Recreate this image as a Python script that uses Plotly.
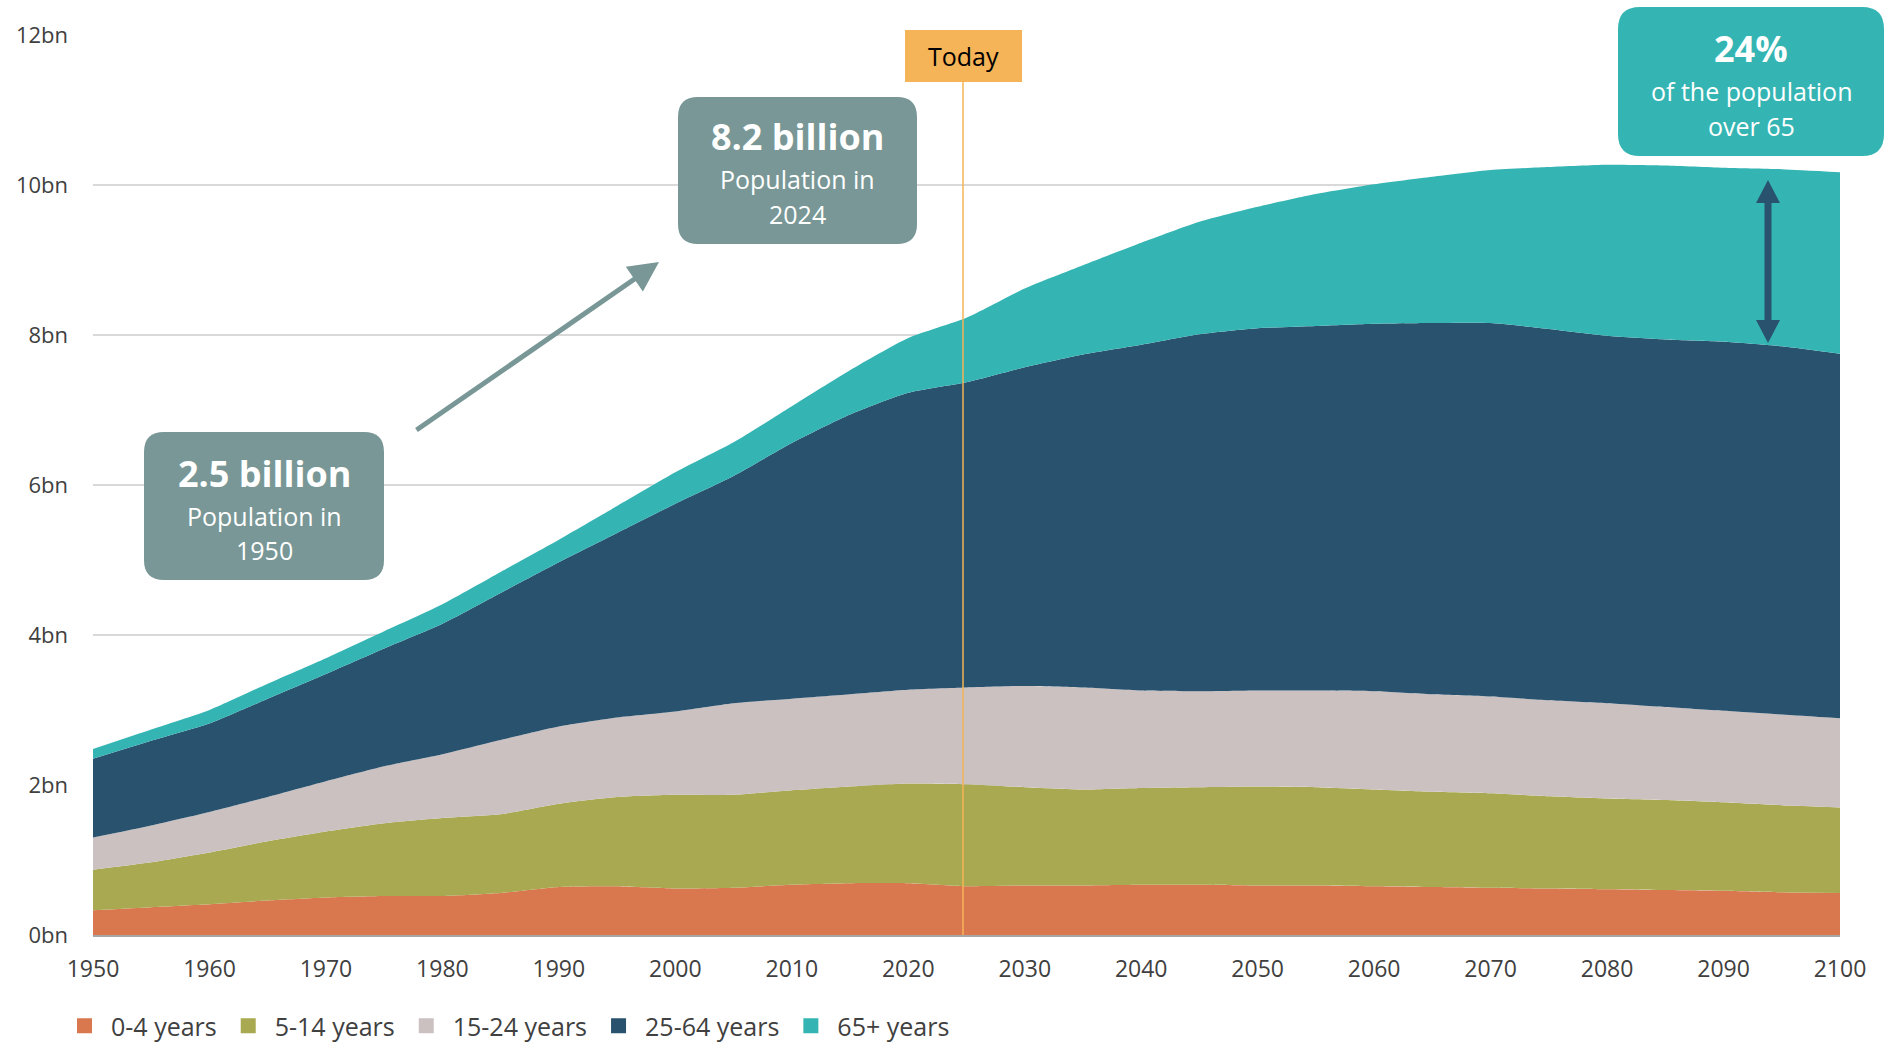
import plotly.graph_objects as go

# ---------------- data (billions) ----------------
years = list(range(1950, 2101, 5))
age_0_4 = [0.33, 0.37, 0.41, 0.46, 0.50, 0.52, 0.52, 0.56, 0.64, 0.65, 0.62, 0.63, 0.67, 0.69, 0.69, 0.65,
           0.66, 0.66, 0.67, 0.67, 0.66, 0.66, 0.65, 0.64, 0.63, 0.62, 0.61, 0.60, 0.59, 0.57, 0.56]
age_5_14 = [0.54, 0.60, 0.69, 0.79, 0.88, 0.97, 1.04, 1.05, 1.11, 1.19, 1.25, 1.24, 1.26, 1.29, 1.33, 1.36,
            1.31, 1.28, 1.29, 1.30, 1.32, 1.31, 1.29, 1.27, 1.26, 1.23, 1.21, 1.20, 1.18, 1.16, 1.14]
age_15_24 = [0.43, 0.49, 0.54, 0.59, 0.67, 0.76, 0.85, 0.99, 1.03, 1.06, 1.11, 1.22, 1.22, 1.23, 1.25, 1.29,
             1.35, 1.36, 1.30, 1.28, 1.28, 1.29, 1.31, 1.30, 1.29, 1.28, 1.27, 1.24, 1.22, 1.21, 1.19]
age_25_64 = [1.05, 1.13, 1.18, 1.31, 1.43, 1.57, 1.74, 1.96, 2.19, 2.46, 2.77, 3.03, 3.41, 3.73, 3.96, 4.07,
             4.25, 4.44, 4.61, 4.76, 4.83, 4.86, 4.90, 4.95, 4.98, 4.95, 4.90, 4.90, 4.92, 4.91, 4.86]
age_65_plus = [0.13, 0.15, 0.18, 0.20, 0.21, 0.23, 0.26, 0.28, 0.30, 0.36, 0.42, 0.45, 0.49, 0.59, 0.73, 0.86,
               1.05, 1.19, 1.36, 1.50, 1.62, 1.76, 1.86, 1.95, 2.04, 2.16, 2.28, 2.32, 2.32, 2.36, 2.42]

series_names = ["0-4 years", "5-14 years", "15-24 years", "25-64 years", "65+ years"]
series_values = [age_0_4, age_5_14, age_15_24, age_25_64, age_65_plus]
series_colors = ["#D9774E", "#A9A952", "#CAC1C0", "#29526F", "#34B5B3"]

x_ticks = list(range(1950, 2101, 10))
y_ticks = [0, 2, 4, 6, 8, 10, 12]
y_tick_labels = [f"{v}bn" for v in y_ticks]
today_year = 2024.7

# ---------------- layout geometry ----------------
FIG_W, FIG_H = 1896, 1043
L, R, T, B = 93, 56, 35, 108
W = FIG_W - L - R
H = FIG_H - T - B


def px(x):
    return (x - L) / W


def py(y):
    return (T + H - y) / H


def rounded_rect(x0, y0, x1, y1, r):
    rx, ry = r / W, r / H
    X0, X1, Y0, Y1 = px(x0), px(x1), py(y0), py(y1)
    return (f"M{X0+rx},{Y0} L{X1-rx},{Y0} Q{X1},{Y0} {X1},{Y0-ry} "
            f"L{X1},{Y1+ry} Q{X1},{Y1} {X1-rx},{Y1} "
            f"L{X0+rx},{Y1} Q{X0},{Y1} {X0},{Y1+ry} "
            f"L{X0},{Y0-ry} Q{X0},{Y0} {X0+rx},{Y0} Z")


FONT = "Open Sans, Noto Sans, sans-serif"
BOX_GREY = "#789796"
TEAL = "#34B5B3"
NAVY = "#29526F"
ORANGE_BOX = "#F5B457"

fig = go.Figure()
for name, vals, col in zip(series_names, series_values, series_colors):
    fig.add_trace(go.Scatter(
        x=years, y=vals, name=name, stackgroup="pop", mode="none",
        fillcolor=col, line=dict(shape="spline", smoothing=0.6, width=0),
        showlegend=False, hoverinfo="skip"))
# legend entries (square swatches)
for name, col in zip(series_names, series_colors):
    fig.add_trace(go.Scatter(x=[None], y=[None], name=name, mode="markers",
                             marker=dict(symbol="square", size=15, color=col), showlegend=True))

shapes = []
# Today line
shapes.append(dict(type="line", xref="x", yref="paper", x0=today_year, x1=today_year,
                   y0=0, y1=py(82), line=dict(color=ORANGE_BOX, width=1.5), layer="above"))
# Today box
shapes.append(dict(type="rect", xref="paper", yref="paper", x0=px(905), x1=px(1022), y0=py(82), y1=py(30),
                   fillcolor=ORANGE_BOX, line=dict(width=0), layer="above"))
# rounded callout boxes
shapes.append(dict(type="path", xref="paper", yref="paper", path=rounded_rect(144, 432, 384, 580, 20),
                   fillcolor=BOX_GREY, line=dict(width=0), layer="above"))
shapes.append(dict(type="path", xref="paper", yref="paper", path=rounded_rect(678, 97, 917, 244, 20),
                   fillcolor=BOX_GREY, line=dict(width=0), layer="above"))
shapes.append(dict(type="path", xref="paper", yref="paper", path=rounded_rect(1618, 7, 1884, 156, 22),
                   fillcolor=TEAL, line=dict(width=0), layer="above"))
# double-headed arrow
ax_c = 1768
pts = [(ax_c, 180), (ax_c + 12, 203), (ax_c + 3.5, 203), (ax_c + 3.5, 320), (ax_c + 12, 320), (ax_c, 343),
       (ax_c - 12, 320), (ax_c - 3.5, 320), (ax_c - 3.5, 203), (ax_c - 12, 203)]
path = "M" + " L".join(f"{px(a)},{py(b)}" for a, b in pts) + " Z"
shapes.append(dict(type="path", xref="paper", yref="paper", path=path, fillcolor=NAVY,
                   line=dict(width=0), layer="above"))

annotations = []


def txt(x, y, text, size, bold=False, color="white"):
    annotations.append(dict(xref="paper", yref="paper", x=px(x), y=py(y), text=f"<b>{text}</b>" if bold else text,
                            showarrow=False, xanchor="center", yanchor="middle",
                            font=dict(family=FONT, size=size, color=color)))


txt(264, 473, "2.5 billion", 36, bold=True)
txt(264, 516, "Population in", 25)
txt(264, 550, "1950", 25)
txt(797.5, 137, "8.2 billion", 36, bold=True)
txt(797.5, 179, "Population in", 25)
txt(797.5, 214, "2024", 25)
txt(1751, 49, "24%", 36, bold=True)
txt(1751, 91, "of the population", 25)
txt(1751, 126, "over 65", 25)
txt(963.5, 56, "Today", 25, color="#000000")

# diagonal arrow
annotations.append(dict(xref="paper", yref="paper", x=px(659), y=py(262), text="", showarrow=True,
                        axref="pixel", ayref="pixel", ax=415 - 659, ay=431 - 262,
                        arrowhead=2, arrowsize=1.2, arrowwidth=5, arrowcolor=BOX_GREY, standoff=0))

fig.update_layout(
    width=FIG_W, height=FIG_H,
    margin=dict(l=L, r=R, t=T, b=B, autoexpand=False),
    paper_bgcolor="white", plot_bgcolor="white",
    font=dict(family=FONT, size=22, color="#404040"),
    shapes=shapes, annotations=annotations,
    showlegend=True,
    legend=dict(orientation="h", xref="container", yref="container",
                x=58 / FIG_W, y=(FIG_H - 1026) / FIG_H, xanchor="left", yanchor="middle",
                font=dict(size=25, color="#404040"), itemwidth=43, traceorder="normal",
                itemsizing="trace", bgcolor="rgba(0,0,0,0)"),
    xaxis=dict(range=[1950, 2100], tickvals=x_ticks, showgrid=False, zeroline=False,
               showline=True, linecolor="#A6A6A6", linewidth=2, ticks="",
               ticklabelstandoff=12, tickfont=dict(size=23, color="#404040"), fixedrange=True),
    yaxis=dict(range=[0, 12], tickvals=y_ticks, ticktext=y_tick_labels, showgrid=True,
               gridcolor="#D9D9D9", gridwidth=1.5, zeroline=False, showline=False, ticks="",
               ticklabelstandoff=24, tickfont=dict(size=22, color="#404040"), fixedrange=True),
    hovermode=False,
)

fig.write_html("out.html")
